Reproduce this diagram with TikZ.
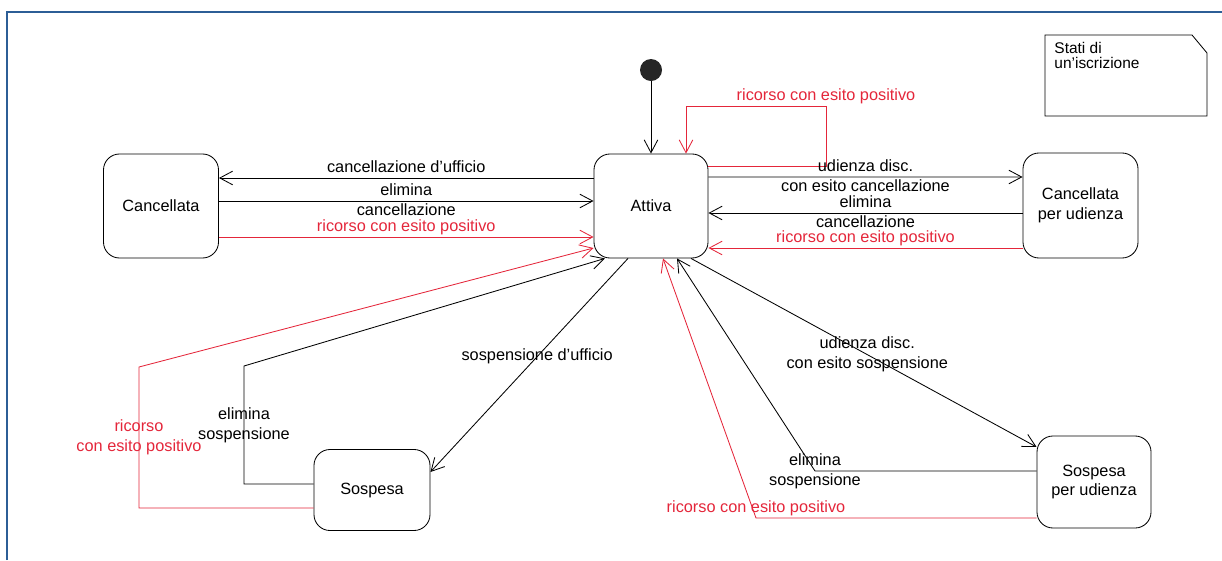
\documentclass[tikz,border=0pt]{standalone}
\usepackage{fontspec}
\setmainfont{Liberation Sans}
\usepackage{tikz}
\usetikzlibrary{arrows.meta}
\usetikzlibrary{positioning}
\definecolor{rosso}{RGB}{228,38,58}
\definecolor{cornice}{RGB}{44,94,150}

\begin{document}
\begin{tikzpicture}[x=0.025cm, y=-0.025cm, line width=0.6pt, >={Straight Barb[length=3.2mm,width=3.4mm]},
		stato/.style={draw, rounded corners=0.4cm, inner sep=0pt, align=center},
		ricorso/.style={draw=rosso, text=rosso},
		etich/.style={align=center},
		sopra/.style={anchor=base, inner sep=0pt, yshift=0.14cm},
		sotto/.style={anchor=base, inner sep=0pt, yshift=-0.36cm}]
			\fontsize{11.6}{14}\selectfont
			\useasboundingbox (0,0) rectangle (1222,560);
			\draw[cornice, line width=1.5pt] (7,560) -- (7,12) -- (1222,12);
			\node[circle, fill=black!85, minimum size=0.55cm, inner sep=0pt] (Inizio) at (651,70) {};
			\node[stato, minimum width=2.85cm, minimum height=2.6cm] (Attiva) at (651,206) {Attiva};
			\node[stato, minimum width=2.875cm, minimum height=2.6cm] (Cancellata) at (161,206) {Cancellata};
			\node[stato, minimum width=2.875cm, minimum height=2.625cm] (CancUd) at (1080.5,205.5) {Cancellata\\per udienza};
			\node[stato, minimum width=2.9cm, minimum height=2.025cm] (Sospesa) at (372,490) {Sospesa};
			\node[stato, minimum width=2.85cm, minimum height=2.3cm] (SospUd) at (1094,482) {Sospesa\\per udienza};
			\draw (1045,35) -- (1192,35) -- (1207,53) -- (1207,116) -- (1045,116) -- cycle;
			\node[anchor=north west, align=left, inner sep=0pt, font=\fontsize{11}{10.5}\selectfont] (Nota) at (1054,42) {Stati di\\un'iscrizione};
			\draw[->] (Inizio) -- (Attiva);
			\draw[->, ricorso] ([yshift=1cm]Attiva.east) -| (826,106) node[sopra] {ricorso con esito positivo} -| ([xshift=0.875cm]Attiva.north);
			\draw[->] ([yshift=0.7cm]Attiva.west) -- ([yshift=0.7cm]Cancellata.east) node[midway, sopra] {cancellazione d'ufficio};
			\draw[->] ([yshift=0.125cm]Cancellata.east) -- ([yshift=0.125cm]Attiva.west) node[midway, sopra] {elimina} node[midway, sotto] {cancellazione};
			\draw[->, ricorso] ([yshift=-0.775cm]Cancellata.east) -- ([yshift=-0.775cm]Attiva.west) node[midway, sopra] {ricorso con esito positivo};
			\draw[->] ([yshift=0.725cm]Attiva.east) -- ([yshift=0.7125cm]CancUd.west) node[midway, sopra] {udienza disc.} node[midway, sotto] {con esito cancellazione};
			\draw[->] ([yshift=-0.1875cm]CancUd.west) -- ([yshift=-0.175cm]Attiva.east) node[midway, sopra] {elimina} node[midway, sotto] {cancellazione};
			\draw[->, ricorso] ([yshift=-1.0625cm]CancUd.west) -- ([yshift=-1.05cm]Attiva.east) node[midway, sopra] {ricorso con esito positivo};
			\draw[->, ricorso] ([yshift=-0.45cm]Sospesa.west) -| (139,367) node[pos=0.75, etich] {ricorso\\con esito positivo} -- ([yshift=-1.05cm]Attiva.west);
			\draw[->] ([yshift=0.15cm]Sospesa.west) -| (244,366) node[pos=0.75, etich] {elimina\\sospensione} -- ([xshift=-1.15cm]Attiva.south);
			\draw[->] ([xshift=-0.575cm]Attiva.south) -- ([yshift=0.45cm]Sospesa.east) node[pos=0.46] {sospensione d'ufficio};
			\draw[->] ([xshift=1cm]Attiva.south) -- ([yshift=0.875cm]SospUd.west) node[pos=0.51, etich] {udienza disc.\\con esito sospensione};
			\draw[->] ([yshift=0.275cm]SospUd.west) -- (815,471) node[etich] {elimina\\sospensione} -- ([xshift=0.65cm]Attiva.south);
			\draw[->, ricorso] ([yshift=-0.9cm]SospUd.west) -- (756,518) node[sopra] {ricorso con esito positivo} -- ([xshift=0.3cm]Attiva.south);
		\end{tikzpicture}
\end{document}
